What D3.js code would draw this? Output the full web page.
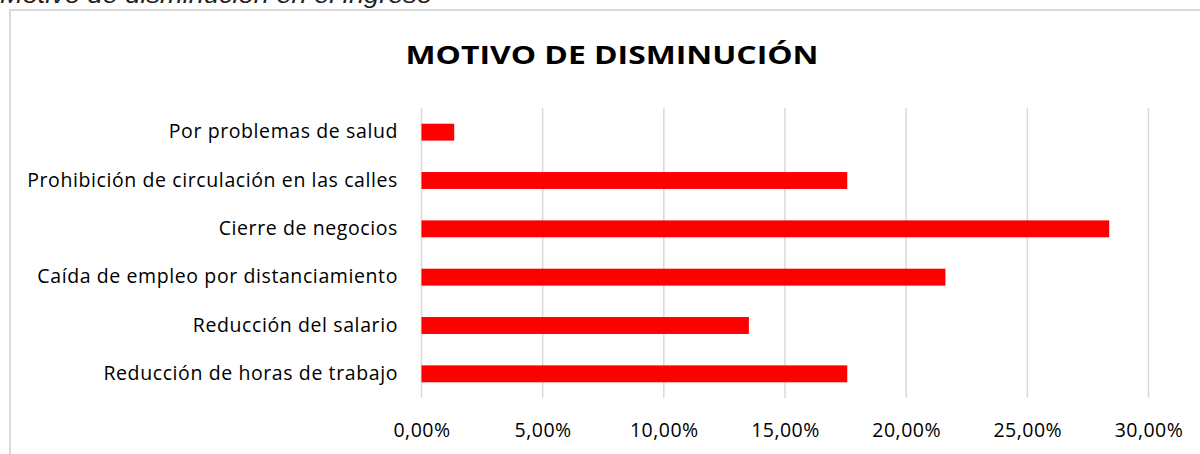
<!DOCTYPE html>
<html>
<head>
<meta charset="utf-8">
<style>
  body { margin: 0; background: #fff; }
  svg text { font-family: "Open Sans", Lato, sans-serif; fill: #000; }
  .grid line { stroke: #d9d9d9; stroke-width: 1.5; }
</style>
</head>
<body>
<svg width="1200" height="454"></svg>
<script src="https://d3js.org/d3.v7.min.js"></script>
<script>
// data (top to bottom as drawn in the reference)
var categories = [
  "Por problemas de salud",
  "Prohibición de circulación en las calles",
  "Cierre de negocios",
  "Caída de empleo por distanciamiento",
  "Reducción del salario",
  "Reducción de horas de trabajo"
];
var values = [0.0135, 0.1757, 0.2838, 0.2162, 0.1351, 0.1757];
var tickValues = [0, 0.05, 0.10, 0.15, 0.20, 0.25, 0.30];

var svg = d3.select("svg");

// caption above the chart box, mostly cut off at the top edge
svg.append("text")
    .attr("x", 0).attr("y", 3)
    .style("font-family", "'Liberation Sans', Arial, sans-serif")
    .style("font-style", "italic")
    .style("font-size", "24px")
    .style("fill", "#222")
    .attr("textLength", 432)
    .attr("lengthAdjust", "spacingAndGlyphs")
    .text("Motivo de disminución en el ingreso");

// chart box (right and bottom edges fall outside the picture)
svg.append("rect")
    .attr("x", 10).attr("y", 10)
    .attr("width", 1200).attr("height", 460)
    .attr("fill", "none")
    .attr("stroke", "#d9d9d9")
    .attr("stroke-width", 2);

svg.append("text")
    .attr("x", 612).attr("y", 64)
    .attr("text-anchor", "middle")
    .style("font-weight", "bold")
    .style("font-size", "25.5px")
    .attr("textLength", 413)
    .attr("lengthAdjust", "spacingAndGlyphs")
    .text("MOTIVO DE DISMINUCIÓN");

var x = d3.scaleLinear().domain([0, 0.30]).range([421.5, 1148.5]);
var y = d3.scaleBand().domain(categories).range([108, 398]).paddingInner(0.65).paddingOuter(0.325);

svg.append("g").attr("class", "grid")
  .selectAll("line")
  .data(tickValues)
  .enter().append("line")
    .attr("x1", function(d) { return x(d); })
    .attr("x2", function(d) { return x(d); })
    .attr("y1", 108)
    .attr("y2", 398);

svg.append("g")
  .selectAll("rect")
  .data(values)
  .enter().append("rect")
    .attr("x", x(0))
    .attr("y", function(d, i) { return y(categories[i]); })
    .attr("width", function(d) { return x(d) - x(0); })
    .attr("height", y.bandwidth())
    .attr("fill", "#ff0000");

var fmt = function(d) { return (d * 100).toFixed(2).replace(".", ",") + "%"; };

var xAxis = svg.append("g")
    .attr("transform", "translate(0,398)")
    .call(d3.axisBottom(x).tickValues(tickValues).tickFormat(fmt).tickSize(0).tickPadding(25));
xAxis.select(".domain").remove();
xAxis.selectAll("text")
    .style("font-size", "19.5px")
    .style("letter-spacing", "0.5px")
    .style("font-family", "'Open Sans', sans-serif");

var yAxis = svg.append("g")
    .attr("transform", "translate(398,0)")
    .call(d3.axisLeft(y).tickSize(0).tickPadding(0));
yAxis.select(".domain").remove();
yAxis.selectAll("text")
    .style("font-size", "19.5px")
    .style("letter-spacing", "0.6px")
    .style("font-family", "'Open Sans', sans-serif");
</script>
</body>
</html>
